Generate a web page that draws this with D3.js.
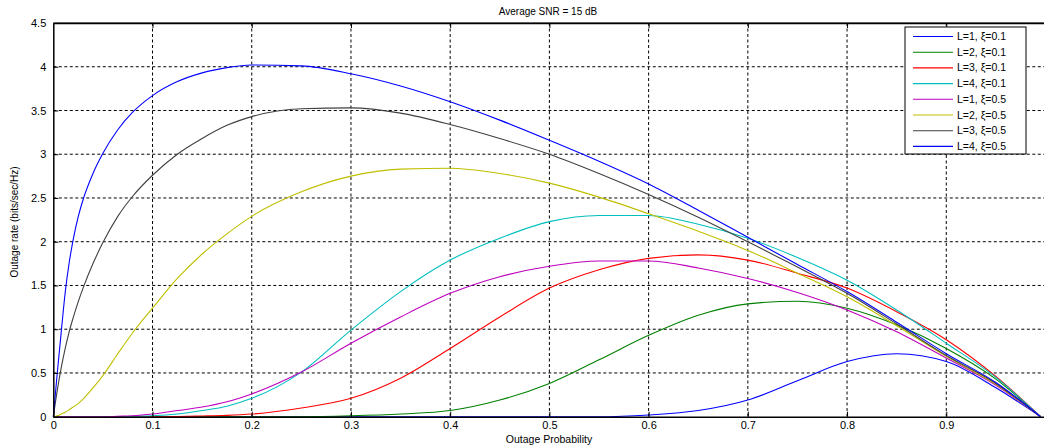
<!DOCTYPE html>
<html>
<head>
<meta charset="utf-8">
<script src="https://cdn.jsdelivr.net/npm/d3@7"></script>
<style>
  body { margin: 0; background: #fff; }
  svg { display: block; font-family: "Liberation Sans", Arial, sans-serif; }
  .axis path, .axis line { stroke: #000; }
  .axis text { font-size: 11px; fill: #000; }
  .grid line { stroke: #000; stroke-dasharray: 3,2.5; stroke-width: 1; }
  .curve { fill: none; stroke-width: 1.1; }
</style>
</head>
<body>
<div id="chart"></div>
<script>
// DATA
// ------------------------------------------------------------------

var outageProb = [0, 0.004, 0.008, 0.012, 0.016, 0.02, 0.025, 0.03, 0.04, 0.05,
  0.065, 0.08, 0.1, 0.125, 0.15, 0.175, 0.2, 0.25, 0.3, 0.35, 0.4, 0.45, 0.5,
  0.55, 0.6, 0.65, 0.7, 0.75, 0.8, 0.85, 0.9, 0.95, 0.995];

var rateL1x01 = [0, 0, 0, 0, 0, 0, 0, 0, 0, 0,
  0, 0, 0, 0, 0, 0, 0, 0, 0, 0, 0, 0, 0,
  0, 0.02, 0.07, 0.19, 0.41, 0.63, 0.72, 0.63, 0.33, 0];
var rateL2x01 = [0, 0, 0, 0, 0, 0, 0, 0, 0, 0,
  0, 0, 0, 0, 0, 0, 0, 0, 0.01, 0.03, 0.07, 0.19, 0.38,
  0.65, 0.93, 1.16, 1.29, 1.32, 1.24, 1.05, 0.78, 0.43, 0];
var rateL3x01 = [0, 0, 0, 0, 0, 0, 0, 0, 0, 0,
  0, 0, 0, 0.003, 0.008, 0.015, 0.03, 0.1, 0.21, 0.44, 0.78, 1.14, 1.47,
  1.68, 1.81, 1.85, 1.79, 1.64, 1.47, 1.2, 0.88, 0.46, 0];
var rateL4x01 = [0, 0, 0, 0, 0, 0, 0, 0, 0, 0,
  0, 0.005, 0.01, 0.03, 0.07, 0.12, 0.21, 0.51, 0.99, 1.43, 1.79, 2.04, 2.23,
  2.30, 2.30, 2.2, 2.04, 1.82, 1.56, 1.22, 0.84, 0.45, 0];
var rateL1x05 = [0, 0, 0, 0, 0, 0, 0, 0, 0, 0,
  0.005, 0.01, 0.03, 0.07, 0.11, 0.17, 0.26, 0.51, 0.84, 1.14, 1.41, 1.6, 1.72,
  1.78, 1.78, 1.7, 1.58, 1.42, 1.22, 0.97, 0.67, 0.36, 0];
var rateL2x05 = [0, 0.01, 0.03, 0.05, 0.08, 0.11, 0.15, 0.2, 0.33, 0.47,
  0.72, 0.96, 1.24, 1.58, 1.86, 2.09, 2.29, 2.57, 2.75, 2.83, 2.84, 2.78, 2.67,
  2.51, 2.32, 2.12, 1.90, 1.64, 1.37, 1.04, 0.69, 0.37, 0];
var rateL3x05 = [0, 0.3, 0.56, 0.78, 0.97, 1.13, 1.31, 1.47, 1.75, 1.99,
  2.29, 2.52, 2.76, 3.0, 3.18, 3.33, 3.43, 3.52, 3.53, 3.47, 3.34, 3.18, 3.0,
  2.78, 2.54, 2.28, 2.0, 1.71, 1.41, 1.06, 0.70, 0.38, 0];
var rateL4x05 = [0, 0.5, 0.97, 1.42, 1.76, 2.02, 2.28, 2.48, 2.78, 3.01,
  3.28, 3.48, 3.67, 3.83, 3.93, 3.99, 4.02, 4.01, 3.92, 3.78, 3.6, 3.39, 3.16,
  2.92, 2.66, 2.36, 2.05, 1.74, 1.43, 1.08, 0.72, 0.39, 0];

var seriesNames = ["L=1, \u03be=0.1", "L=2, \u03be=0.1", "L=3, \u03be=0.1", "L=4, \u03be=0.1",
                   "L=1, \u03be=0.5", "L=2, \u03be=0.5", "L=3, \u03be=0.5", "L=4, \u03be=0.5"];
var seriesValues = [rateL1x01, rateL2x01, rateL3x01, rateL4x01,
                    rateL1x05, rateL2x05, rateL3x05, rateL4x05];
var seriesColors = ["#0000ff", "#008000", "#ff0000", "#00bfbf",
                    "#bf00bf", "#bfbf00", "#404040", "#0000ff"];

var xTicks = [0, 0.1, 0.2, 0.3, 0.4, 0.5, 0.6, 0.7, 0.8, 0.9];
var yTicks = [0, 0.5, 1, 1.5, 2, 2.5, 3, 3.5, 4, 4.5];

// CANVAS
// ------------------------------------------------------------------

var width = 1044,
    height = 448;

var svg = d3.select("#chart")
    .append("svg")
    .attr("width", width)
    .attr("height", height);

// AXES
// ------------------------------------------------------------------

var plotLeft = 53.3, plotRight = 1045.5, plotTop = 23, plotBottom = 416.7;

var xScale = d3.scaleLinear().domain([0, 1]).range([plotLeft, plotRight]),
    yScale = d3.scaleLinear().domain([0, 4.5]).range([plotBottom, plotTop]);

// grid
svg.append("g")
    .attr("class", "grid")
    .selectAll("line")
    .data(xTicks.slice(1))
    .enter().append("line")
    .attr("x1", function(d) { return xScale(d); })
    .attr("x2", function(d) { return xScale(d); })
    .attr("y1", plotTop)
    .attr("y2", plotBottom);

svg.append("g")
    .attr("class", "grid")
    .selectAll("line")
    .data(yTicks.slice(1, -1))
    .enter().append("line")
    .attr("x1", plotLeft)
    .attr("x2", width)
    .attr("y1", function(d) { return yScale(d); })
    .attr("y2", function(d) { return yScale(d); });

// CURVES
// ------------------------------------------------------------------

var line = d3.line()
    .x(function(d) { return xScale(d[0]); })
    .y(function(d) { return yScale(d[1]); })
    .curve(d3.curveMonotoneX);

seriesValues.forEach(function(vals, i) {
  var pts = outageProb.map(function(p, j) { return [p, vals[j]]; });
  svg.append("path")
      .attr("class", "curve")
      .attr("stroke", seriesColors[i])
      .attr("d", line(pts));
});

// frame and ticks
svg.append("line")
    .attr("x1", plotLeft).attr("x2", width)
    .attr("y1", plotTop).attr("y2", plotTop)
    .attr("stroke", "#555").attr("stroke-width", 1.5);

var xAxis = d3.axisBottom(xScale)
    .tickValues(xTicks)
    .tickSizeInner(-5)
    .tickSizeOuter(0)
    .tickPadding(5)
    .tickFormat(function(d) { return d === 0 ? "0" : d3.format(".1f")(d); });

svg.append("g")
    .attr("class", "axis")
    .attr("transform", "translate(0," + plotBottom + ")")
    .call(xAxis);

svg.append("g")
    .attr("class", "axis")
    .attr("transform", "translate(0," + plotTop + ")")
    .call(d3.axisTop(xScale).tickValues(xTicks.slice(1)).tickSizeInner(-5).tickSizeOuter(0).tickFormat(""));

var yAxis = d3.axisLeft(yScale)
    .tickValues(yTicks)
    .tickSizeInner(-5)
    .tickSizeOuter(0)
    .tickPadding(7)
    .tickFormat(function(d) { return d3.format("")(d); });

svg.append("g")
    .attr("class", "axis")
    .attr("transform", "translate(" + plotLeft + ",0)")
    .call(yAxis);

svg.selectAll(".axis path.domain").attr("stroke-width", 1.5);

// LABELS
// ------------------------------------------------------------------

svg.append("text")
    .attr("x", 548)
    .attr("y", 15)
    .style("text-anchor", "middle")
    .style("font-size", "10px")
    .text("Average SNR = 15 dB");

svg.append("text")
    .attr("x", 549)
    .attr("y", 443)
    .style("text-anchor", "middle")
    .style("font-size", "10.5px")
    .text("Outage Probability");

svg.append("text")
    .attr("transform", "rotate(-90)")
    .attr("x", -222)
    .attr("y", 18)
    .style("text-anchor", "middle")
    .style("font-size", "10px")
    .text("Outage rate (bits/sec/Hz)");

// LEGEND
// ------------------------------------------------------------------

var legend = svg.append("g")
    .attr("transform", "translate(905,27)");

legend.append("rect")
    .attr("width", 121)
    .attr("height", 127)
    .attr("fill", "#fff")
    .attr("stroke", "#000");

seriesNames.forEach(function(name, i) {
  var y = 9.5 + i * 15.7;
  legend.append("line")
      .attr("x1", 8).attr("x2", 48)
      .attr("y1", y).attr("y2", y)
      .attr("stroke", seriesColors[i])
      .attr("stroke-width", 1.1);
  legend.append("text")
      .attr("x", 52)
      .attr("y", y + 3.5)
      .style("font-size", "10.5px")
      .text(name);
});
</script>
</body>
</html>
